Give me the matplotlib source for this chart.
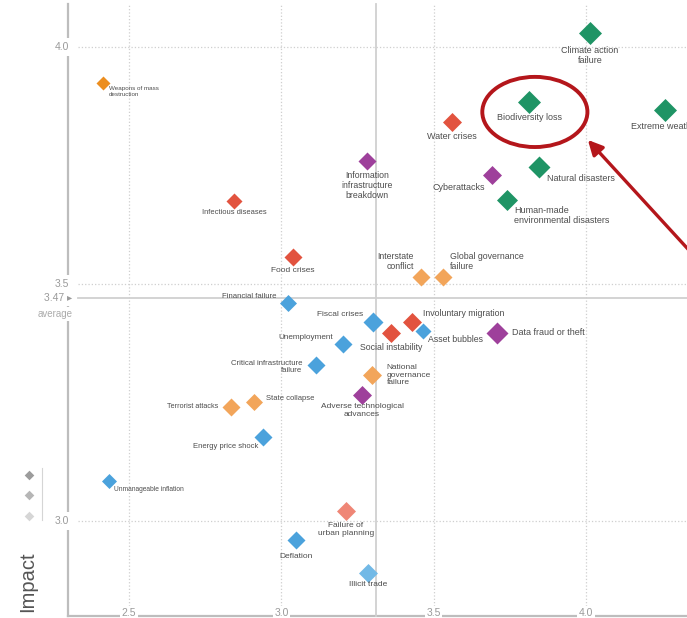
import matplotlib.pyplot as plt
from matplotlib.patches import Ellipse

plt.rcParams['font.family'] = ['Liberation Sans', 'DejaVu Sans']

# risks: likelihood (x), impact (y), category
risks = [
    "Weapons of mass\ndestruction", "Infectious diseases", "Food crises",
    "Information\ninfrastructure\nbreakdown", "Water crises", "Cyberattacks",
    "Interstate\nconflict", "Global governance\nfailure", "Financial failure",
    "Climate action\nfailure", "Biodiversity loss", "Extreme weather",
    "Natural disasters", "Human-made\nenvironmental disasters", "Data fraud or theft",
    "Fiscal crises", "Involuntary migration", "Social instability",
    "Asset bubbles", "Unemployment", "Critical infrastructure\nfailure",
    "National\ngovernance\nfailure", "Adverse technological\nadvances", "State collapse",
    "Terrorist attacks", "Energy price shock", "Unmanageable inflation",
    "Failure of\nurban planning", "Deflation", "Illicit trade",
]
likelihood = [2.415, 2.845, 3.038, 3.281, 3.560, 3.691, 3.458, 3.531, 3.022,
              4.013, 3.813, 4.259, 3.846, 3.741, 3.708, 3.301, 3.429, 3.360,
              3.465, 3.202, 3.114, 3.297, 3.265, 2.910, 2.835, 2.940, 2.434,
              3.212, 3.048, 3.284]
impact = [3.924, 3.675, 3.557, 3.759, 3.842, 3.730, 3.515, 3.515, 3.460,
          4.030, 3.884, 3.867, 3.747, 3.677, 3.397, 3.420, 3.420, 3.397,
          3.401, 3.373, 3.329, 3.308, 3.266, 3.251, 3.241, 3.177, 3.084,
          3.021, 2.960, 2.890]
category = ["geo", "soc", "soc", "tech", "soc", "tech", "geo", "geo", "eco",
            "env", "env", "env", "env", "env", "tech", "eco", "soc", "soc",
            "eco", "eco", "eco", "geo", "tech", "geo", "geo", "eco", "eco",
            "soc", "eco", "eco"]

avg_likelihood = 3.31
avg_impact = 3.47
x_ticks = [2.5, 3.0, 3.5, 4.0]
y_ticks = [3.0, 3.5, 4.0]

# styling
colors = {"env": "#1f9465", "soc": "#e2533f", "geo": "#f2a55a",
          "tech": "#9e409b", "eco": "#4ba2dc"}
special_colors = {"Weapons of mass\ndestruction": "#ec8e1f",
                  "Failure of\nurban planning": "#ef8676",
                  "Illicit trade": "#72b9e6"}
marker_w = [14, 16, 18, 18, 19, 19, 18, 18, 17, 23, 23, 23, 22, 21, 22,
            20, 19, 19, 16, 18, 18, 19, 19, 17, 18, 18, 15, 19, 18, 19]
# label placement: dx, dy (pixels), ha, va, fontsize
place = [
    (6, -3, "left", "top", 4.5), (0, -8, "center", "top", 5.4),
    (0, -10, "center", "top", 6), (0, -10, "center", "top", 6.3),
    (0, -10, "center", "top", 6.5), (-7, -12, "right", "center", 6.5),
    (-7, 6, "right", "bottom", 6.3), (7, 6, "left", "bottom", 6.3),
    (-12, 6, "right", "center", 5.6), (0, -13, "center", "top", 6.5),
    (0, -11, "center", "top", 6.5), (0, -12, "center", "top", 6.5),
    (8, -12, "left", "center", 6.5), (7, -6, "left", "top", 6.5),
    (15, 0, "left", "center", 6.5), (-10, 7, "right", "center", 6),
    (11, 8, "left", "center", 6.3), (0, -10, "center", "top", 6.3),
    (5, -9, "left", "center", 6.3), (-10, 7, "right", "center", 5.9),
    (-14, -2, "right", "center", 5.6), (15, 0, "left", "center", 6),
    (0, -8, "center", "top", 6), (12, 4, "left", "center", 5.5),
    (-13, 0, "right", "center", 5.2), (-5, -9, "right", "center", 5.5),
    (5, -8, "left", "center", 4.8), (0, -11, "center", "top", 6),
    (0, -13, "center", "top", 6), (0, -8, "center", "top", 6),
]

fig = plt.figure(figsize=(6.87, 6.18), dpi=100)
ax = fig.add_axes([0, 0, 1, 1])
ax.set_xlim(2.0766, 4.3313)
ax.set_ylim(2.7954, 4.0992)
ax.axis("off")

# frame and grid
ax.plot([2.30, 2.30], [2.80, 4.09], color="#bdbdbd", lw=1.6, zorder=1)
ax.plot([2.30, 4.34], [2.80, 2.80], color="#bdbdbd", lw=1.6, zorder=1)
for xt in x_ticks:
    ax.plot([xt, xt], [2.80, 4.09], color="#cfcfcf", lw=0.9, ls=":", zorder=1)
    ax.text(xt, 2.7956, f"{xt:.1f}", ha="center", va="bottom", fontsize=7.5,
            color="#9a9a9a", zorder=3,
            bbox=dict(boxstyle="square,pad=0.15", fc="white", ec="none"))
for yt in y_ticks:
    ax.plot([2.333, 4.34], [yt, yt], color="#cfcfcf", lw=0.9, ls=":", zorder=1)
    ax.text(2.28, yt, f"{yt:.1f}", ha="center", va="center", fontsize=7.5,
            color="#9a9a9a", zorder=3,
            bbox=dict(boxstyle="square,pad=0.35", fc="white", ec="none"))
ax.plot([avg_likelihood, avg_likelihood], [2.80, 4.09], color="#d0d0d0", lw=1.3, zorder=1)
ax.plot([2.333, 4.34], [avg_impact, avg_impact], color="#d0d0d0", lw=1.3, zorder=1)
ax.text(2.313, avg_impact, f"{avg_impact:.2f} \u25b8", ha="right", va="center",
        fontsize=7.5, color="#9a9a9a", zorder=3,
        bbox=dict(boxstyle="square,pad=0.3", fc="white", ec="none"))
ax.text(2.316, avg_impact - 0.033, "average", ha="right", va="center",
        fontsize=7, color="#ababab", zorder=3,
        bbox=dict(boxstyle="square,pad=0.2", fc="white", ec="none"))

# small shade key and axis title
ax.plot([2.2145, 2.2145], [3.002, 3.112], color="#d5d5d5", lw=0.8)
for yy, c in zip([3.097, 3.055, 3.011], ["#9c9c9c", "#b6b6b6", "#d6d6d6"]):
    ax.scatter(2.172, yy, marker="D", s=24, color=c, linewidths=0)
ax.text(2.168, 2.873, "Impact", rotation=90, ha="center", va="center",
        fontsize=14.5, color="#555555")

# risks
for i, name in enumerate(risks):
    c = special_colors.get(name, colors[category[i]])
    ms = marker_w[i] * 0.72 / 1.414
    ax.scatter(likelihood[i], impact[i], marker="D", s=ms ** 2, color=c,
               linewidths=0, zorder=4)
    dx, dy, ha, va, fs = place[i]
    ax.annotate(name, (likelihood[i], impact[i]), xytext=(dx, dy),
                textcoords="offset pixels", ha=ha, va=va, fontsize=fs,
                color="#4d4d4d", multialignment=ha,
                linespacing=1.15, zorder=5)

# highlight
ax.add_patch(Ellipse((3.832, 3.863), 0.345, 0.148, fill=False,
                     ec="#b4161b", lw=2.8, zorder=6))
ax.annotate("", xy=(4.006, 3.804), xytext=(4.374, 3.546), annotation_clip=False,
            arrowprops=dict(arrowstyle="-|>", color="#b4161b", lw=2.4,
                            mutation_scale=22, shrinkA=0, shrinkB=0), zorder=6)

fig.savefig("out.png", dpi=100)
